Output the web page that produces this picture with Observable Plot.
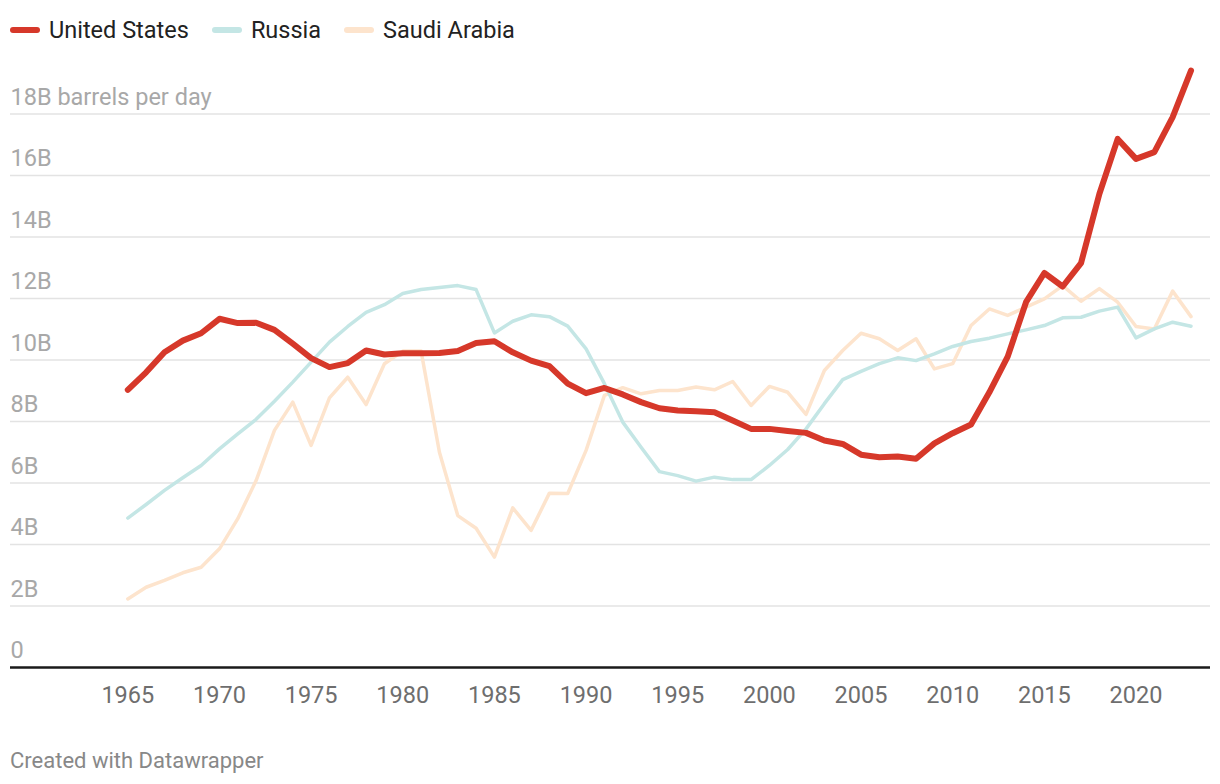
<!DOCTYPE html>
<html>
<head>
<meta charset="utf-8">
<script src="https://cdn.jsdelivr.net/npm/d3@7"></script>
<script src="https://cdn.jsdelivr.net/npm/@observablehq/plot@0.6"></script>
<style>
  body { margin: 0; background: #fff; font-family: Roboto, sans-serif; width: 1220px; height: 784px; position: relative; overflow: hidden; }
  #legend { position: absolute; left: 10px; top: 15px; height: 30px; display: flex; align-items: center; font-size: 23.5px; color: #222; }
  .item { display: flex; align-items: center; margin-right: 23px; }
  .sw { width: 30px; height: 6px; border-radius: 3px; margin-right: 9px; }
  #chart { position: absolute; left: 0; top: 60px; }
  #credit { position: absolute; left: 10px; top: 748px; font-size: 22px; color: #888; }
</style>
</head>
<body>
<div id="legend"></div>
<div id="chart"></div>
<div id="credit">Created with Datawrapper</div>
<script>
const startYear = 1965;
const endYear = 2023;
const years = d3.range(startYear, endYear + 1);

const seriesNames = ["United States", "Russia", "Saudi Arabia"];
const seriesColors = ["#d6382a", "#c4e6e5", "#fde4cd"];

const unitedStates = [9.03, 9.60, 10.25, 10.63, 10.87, 11.34, 11.20, 11.21, 10.98, 10.53,
  10.06, 9.77, 9.90, 10.31, 10.18, 10.22, 10.22, 10.23, 10.29, 10.55,
  10.61, 10.25, 9.98, 9.80, 9.23, 8.92, 9.09, 8.88, 8.63, 8.43,
  8.36, 8.33, 8.30, 8.03, 7.76, 7.76, 7.69, 7.63, 7.38, 7.27,
  6.92, 6.84, 6.86, 6.79, 7.29, 7.62, 7.90, 8.95, 10.11, 11.88,
  12.83, 12.39, 13.15, 15.40, 17.19, 16.54, 16.76, 17.90, 19.41];

const russia = [4.86, 5.30, 5.76, 6.17, 6.57, 7.11, 7.60, 8.07, 8.66, 9.28,
  9.93, 10.58, 11.09, 11.55, 11.80, 12.16, 12.29, 12.36, 12.42, 12.29,
  10.88, 11.26, 11.47, 11.41, 11.10, 10.36, 9.23, 7.98, 7.16, 6.37,
  6.24, 6.06, 6.19, 6.11, 6.11, 6.57, 7.09, 7.76, 8.58, 9.36,
  9.63, 9.88, 10.07, 9.98, 10.20, 10.44, 10.60, 10.71, 10.85, 10.98,
  11.12, 11.37, 11.39, 11.59, 11.72, 10.72, 11.01, 11.23, 11.10];

const saudiArabia = [2.23, 2.61, 2.83, 3.08, 3.26, 3.86, 4.84, 6.08, 7.71, 8.63,
  7.22, 8.77, 9.44, 8.55, 9.88, 10.29, 10.29, 7.00, 4.94, 4.53,
  3.59, 5.19, 4.46, 5.67, 5.66, 7.06, 8.85, 9.10, 8.90, 9.01,
  9.01, 9.12, 9.03, 9.30, 8.52, 9.14, 8.95, 8.23, 9.66, 10.31,
  10.87, 10.69, 10.31, 10.69, 9.71, 9.88, 11.12, 11.66, 11.45, 11.72,
  11.99, 12.42, 11.91, 12.32, 11.88, 11.09, 11.01, 12.24, 11.41];

const yTicks = [0, 2, 4, 6, 8, 10, 12, 14, 16, 18];
const yTickLabels = ["0", "2B", "4B", "6B", "8B", "10B", "12B", "14B", "16B", "18B barrels per day"];
const xTicks = [1965, 1970, 1975, 1980, 1985, 1990, 1995, 2000, 2005, 2010, 2015, 2020];

// legend
const legend = document.getElementById("legend");
seriesNames.forEach((name, i) => {
  const item = document.createElement("div");
  item.className = "item";
  const sw = document.createElement("div");
  sw.className = "sw";
  sw.style.background = seriesColors[i];
  const label = document.createElement("span");
  label.textContent = name;
  item.append(sw, label);
  legend.append(item);
});

const toRows = (vals) => years.map((y, i) => ({ year: y, value: vals[i] }));
const usRows = toRows(unitedStates);
const ruRows = toRows(russia);
const saRows = toRows(saudiArabia);
const yTickRows = yTicks.map((v, i) => ({ v, label: yTickLabels[i] }));

// layout: line starts at x=127, one year ≈ 18.33px, frame spans x=10..1210
const pxPerYear = 18.33;
const xDomain = [startYear - 117.3 / pxPerYear, endYear + 19.5 / pxPerYear];

const chart = Plot.plot({
  width: 1220,
  height: 665,
  marginTop: 53.5,
  marginBottom: 58,
  marginLeft: 10,
  marginRight: 10,
  style: { fontFamily: "Roboto, sans-serif", background: "transparent" },
  x: { domain: xDomain, axis: null },
  y: { domain: [0, 18], axis: null },
  marks: [
    Plot.ruleY(yTicks.filter(d => d > 0), { stroke: "#e3e3e3", strokeWidth: 1.5 }),
    Plot.text(yTickRows, {
      y: "v", text: "label", frameAnchor: "left", textAnchor: "start",
      dy: -17, fill: "#a8a8a8", fontSize: 23.5
    }),
    Plot.line(saRows, { x: "year", y: "value", stroke: seriesColors[2], strokeWidth: 3.5, strokeLinejoin: "round", strokeLinecap: "round" }),
    Plot.line(ruRows, { x: "year", y: "value", stroke: seriesColors[1], strokeWidth: 3.5, strokeLinejoin: "round", strokeLinecap: "round" }),
    Plot.line(usRows, { x: "year", y: "value", stroke: seriesColors[0], strokeWidth: 6, strokeLinejoin: "round", strokeLinecap: "round" }),
    Plot.ruleY([0], { stroke: "#1a1a1a", strokeWidth: 2.5 }),
    Plot.text(xTicks, {
      x: d => d, y: 0, dy: 28, text: d => String(d),
      fill: "#6e6e6e", fontSize: 23.5
    })
  ]
});
document.getElementById("chart").append(chart);
</script>
</body>
</html>
